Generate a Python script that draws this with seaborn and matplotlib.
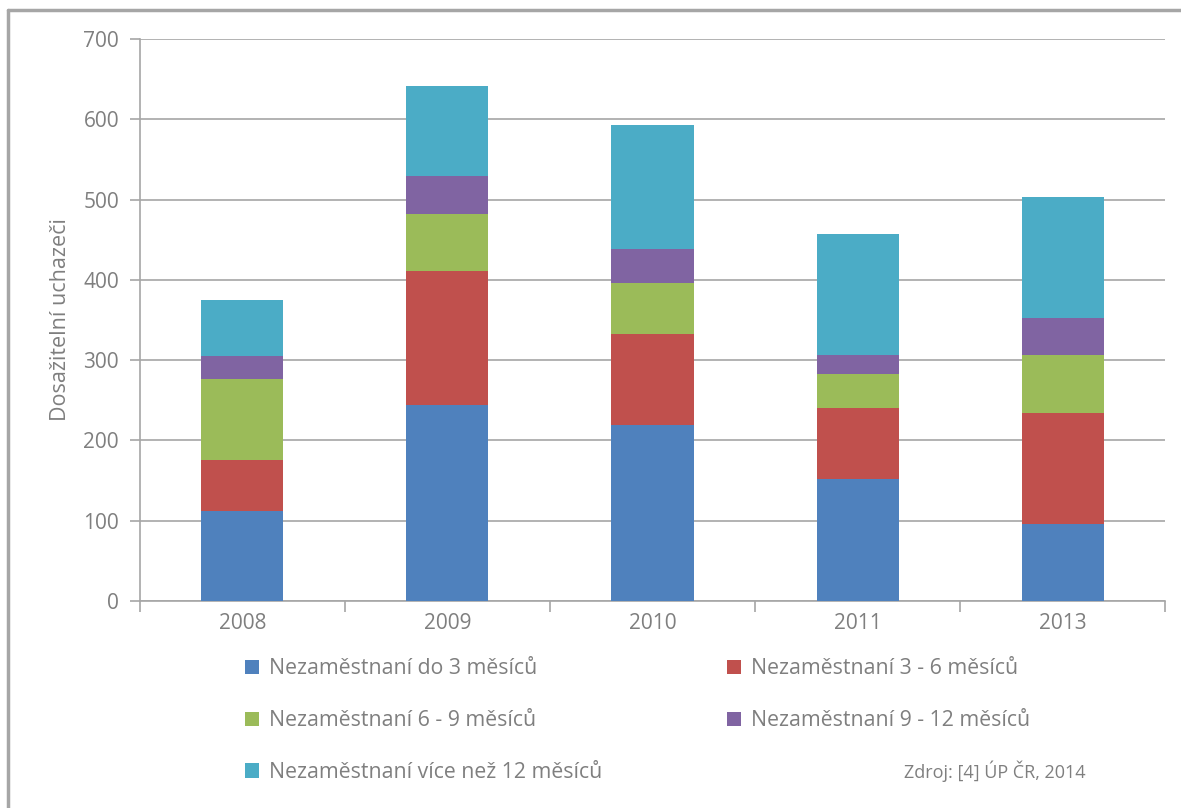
import numpy as np
import pandas as pd
import matplotlib.pyplot as plt
from matplotlib.lines import Line2D
from matplotlib.patches import Patch
import seaborn as sns

# Data
years = ['2008', '2009', '2010', '2011', '2013']
series_names = ['Nezaměstnaní do 3 měsíců', 'Nezaměstnaní 3 - 6 měsíců',
                'Nezaměstnaní 6 - 9 měsíců', 'Nezaměstnaní 9 - 12 měsíců',
                'Nezaměstnaní více než 12 měsíců']
do_3 = [112, 244, 219, 152, 96]
m3_6 = [63, 167, 114, 89, 138]
m6_9 = [101, 71, 63, 42, 73]
m9_12 = [29, 48, 42, 24, 46]
nad_12 = [70, 112, 155, 150, 150]
yticks = [0, 100, 200, 300, 400, 500, 600, 700]

colors = ['#4F81BD', '#C0504D', '#9BBB59', '#8064A2', '#4BACC6']
text_col = '#7F7F7F'
grid_col = '#A6A6A6'

sns.set_style('white')
plt.rcParams['font.family'] = ['Open Sans', 'DejaVu Sans']

df = pd.DataFrame({'rok': years, series_names[0]: do_3, series_names[1]: m3_6,
                   series_names[2]: m6_9, series_names[3]: m9_12,
                   series_names[4]: nad_12})
cum = df[series_names].cumsum(axis=1)

fig = plt.figure(figsize=(11.81, 8.08), dpi=100)
ax = fig.add_axes([0.1185, 0.2562, 0.868, 0.6955])

# stacked bars: draw cumulative totals from the top series down
for name, c in reversed(list(zip(series_names, colors))):
    sns.barplot(x=df['rok'], y=cum[name], color=c, width=0.4, ax=ax,
                saturation=1, linewidth=0, zorder=3)

ax.set_xlim(-0.5, len(years) - 0.5)
ax.set_ylim(0, 700)
ax.set_yticks(yticks)
ax.yaxis.grid(True, color=grid_col, linewidth=1.2, zorder=0)
ax.set_axisbelow(True)

for s in ['top', 'right']:
    ax.spines[s].set_visible(False)
for s in ['left', 'bottom']:
    ax.spines[s].set_color(grid_col)
    ax.spines[s].set_linewidth(1.2)

ax.tick_params(axis='y', length=7, width=1.2, color=grid_col, labelcolor=text_col,
               labelsize=15, pad=8, left=True)
ax.set_xticks(np.arange(len(years)))
ax.set_xticklabels(years)
ax.tick_params(axis='x', length=0, labelcolor=text_col, labelsize=15, pad=9)
ax.set_xticks(np.arange(-0.5, len(years)), minor=True)
ax.tick_params(axis='x', which='minor', length=8, width=1.2, color=grid_col, bottom=True)

ax.set_xlabel('')
ax.set_ylabel('Dosažitelní uchazeči', color=text_col, fontsize=15.5, labelpad=9)

# legend: row-major order in the original, matplotlib fills columns first
handles = [Patch(facecolor=c, edgecolor='none') for c in colors]
order = [0, 2, 4, 1, 3]
fig.legend([handles[i] for i in order], [series_names[i] for i in order],
           loc='upper left', bbox_to_anchor=(0.1915, 0.209), ncol=2, frameon=False,
           fontsize=15.3, labelcolor=text_col, handlelength=0.65, handleheight=0.65,
           handletextpad=0.45, columnspacing=5.9, labelspacing=1.45)

fig.text(0.919, 0.045, 'Zdroj: [4] ÚP ČR, 2014', color=text_col, fontsize=13,
         ha='right', va='center')

# outer chart frame (left and top edges visible)
fig.add_artist(Line2D([0.007, 0.007], [0.0, 0.988], color=grid_col, linewidth=2.5))
fig.add_artist(Line2D([0.007, 1.0], [0.988, 0.988], color=grid_col, linewidth=2.5))

fig.savefig('out.png', dpi=100)
